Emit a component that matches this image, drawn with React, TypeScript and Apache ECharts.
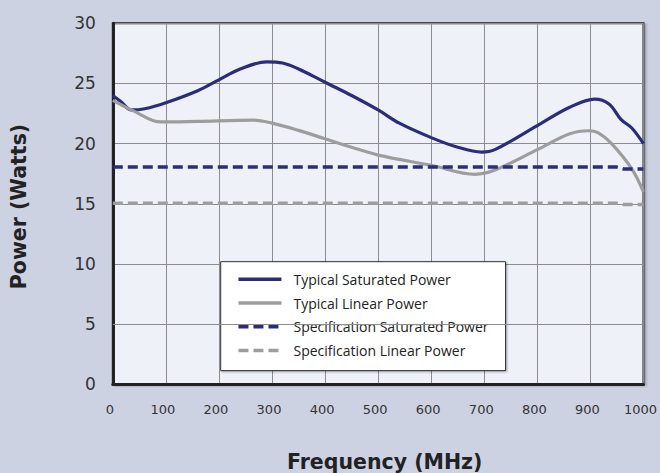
import React, { useEffect, useRef } from "react";
import * as echarts from "echarts";

const seriesNames = [
  "Typical Saturated Power",
  "Typical Linear Power",
  "Specification Saturated Power",
  "Specification Linear Power",
];

// [frequency MHz, power W]
const typicalSaturated: [number, number][] = [
  [0, 24.0], [15, 23.5], [35, 22.8], [60, 22.9], [100, 23.4], [160, 24.4],
  [200, 25.3], [240, 26.2], [290, 26.8], [320, 26.7], [360, 26.0], [400, 25.1],
  [450, 24.0], [500, 22.8], [540, 21.7], [600, 20.5], [650, 19.7], [695, 19.3],
  [720, 19.5], [800, 21.5], [860, 23.0], [908, 23.7], [935, 23.3], [958, 22.0],
  [978, 21.3], [1000, 20.0],
];

const typicalLinear: [number, number][] = [
  [0, 23.6], [40, 22.7], [90, 21.8], [160, 21.85], [265, 21.95], [300, 21.7],
  [350, 21.1], [400, 20.4], [450, 19.7], [500, 19.05], [600, 18.2], [683, 17.45],
  [720, 17.8], [800, 19.5], [860, 20.8], [897, 21.07], [915, 20.9], [940, 20.0],
  [978, 17.9], [1000, 16.0],
];

const specSaturated: [number, number][] = [
  [0, 18.05], [950, 18.05], [962, 17.9], [1000, 17.9],
];

const specLinear: [number, number][] = [
  [0, 15.05], [950, 15.05], [962, 14.95], [1000, 14.95],
];

const xMin = 0;
const xMax = 1000;
const xStep = 100;
const yMin = 0;
const yMax = 30;
const yStep = 5;
const legendCrossLineValue = 5;

const NAVY = "#2b2d7b";
const GREY = "#9d9d9d";
const GRID_LINE = "#8c8c8c";
const OUTER_BG = "#cdd2e3";
const PLOT_BG = "#eef2f8";

export default function App() {
  const ref = useRef<HTMLDivElement>(null);

  useEffect(() => {
    document.body.style.margin = "0";
    document.body.style.background = OUTER_BG;
    const chart = echarts.init(ref.current!, null, { renderer: "svg" });
    chart.setOption({
      animation: false,
      backgroundColor: OUTER_BG,
      grid: {
        show: true,
        left: 112.8,
        top: 23.3,
        width: 532,
        height: 361,
        backgroundColor: PLOT_BG,
        borderColor: "#222",
        borderWidth: 2,
        shadowColor: "rgba(0,0,0,0.25)",
        shadowBlur: 2,
        shadowOffsetX: 2,
        shadowOffsetY: 1,
      },
      xAxis: {
        type: "value",
        min: xMin,
        max: xMax,
        interval: xStep,
        axisLine: { show: true, lineStyle: { color: "#222", width: 3 } },
        axisTick: { show: false },
        splitLine: { show: true, lineStyle: { color: GRID_LINE, width: 1 } },
        axisLabel: {
          margin: 19,
          fontFamily: "DejaVu Sans",
          fontSize: 13,
          color: "#333",
          padding: [0, 6, 0, 0],
          formatter: (v: number) => String(v),
        },
      },
      yAxis: {
        type: "value",
        min: yMin,
        max: yMax,
        interval: yStep,
        axisLine: { show: true, lineStyle: { color: "#222", width: 3 } },
        axisTick: { show: false },
        splitLine: { show: true, lineStyle: { color: GRID_LINE, width: 1 } },
        axisLabel: {
          margin: 17,
          fontFamily: "DejaVu Sans",
          fontSize: 17,
          color: "#333",
        },
      },
      legend: {
        show: true,
        data: seriesNames,
        orient: "vertical",
        left: 220.7,
        top: 261.7,
        backgroundColor: "#ffffff",
        borderColor: "#333",
        borderWidth: 1,
        shadowColor: "rgba(0,0,0,0.35)",
        shadowBlur: 2,
        shadowOffsetX: 1,
        shadowOffsetY: 1,
        padding: [10.5, 17, 13, 16],
        itemWidth: 43,
        itemHeight: 14,
        itemGap: 9.8,
        lineStyle: { width: 3.5 },
        itemStyle: { opacity: 0 },
        textStyle: {
          fontFamily: "Open Sans",
          fontSize: 14,
          color: "#222",
          padding: [0, 0, 0, 7],
        },
      },
      graphic: [
        {
          type: "text",
          x: 18.5,
          y: 206.5,
          rotation: Math.PI / 2,
          style: {
            text: "Power (Watts)",
            fontFamily: "DejaVu Sans",
            fontWeight: "bold",
            fontSize: 20.5,
            fill: "#222",
            align: "center",
            verticalAlign: "middle",
          },
        },
        {
          type: "text",
          x: 384.7,
          y: 461.5,
          style: {
            text: "Frequency (MHz)",
            fontFamily: "DejaVu Sans",
            fontWeight: "bold",
            fontSize: 20.5,
            fill: "#222",
            align: "center",
            verticalAlign: "middle",
          },
        },
      ],
      series: [
        {
          name: seriesNames[0],
          type: "line",
          data: typicalSaturated,
          smooth: 0.35,
          symbol: "none",
          showSymbol: false,
          lineStyle: { color: NAVY, width: 3.2 },
          itemStyle: { color: NAVY },
        },
        {
          name: seriesNames[1],
          type: "line",
          data: typicalLinear,
          smooth: 0.35,
          symbol: "none",
          showSymbol: false,
          lineStyle: { color: GREY, width: 3.2 },
          itemStyle: { color: GREY },
        },
        {
          name: seriesNames[2],
          type: "line",
          data: specSaturated,
          symbol: "none",
          showSymbol: false,
          lineStyle: { color: NAVY, width: 3.5, type: [10, 5] },
          itemStyle: { color: NAVY },
        },
        {
          name: seriesNames[3],
          type: "line",
          data: specLinear,
          symbol: "none",
          showSymbol: false,
          lineStyle: { color: GREY, width: 3.5, type: [10, 5] },
          itemStyle: { color: GREY },
          markLine: {
            silent: true,
            z: 10,
            symbol: ["none", "none"],
            label: { show: false },
            lineStyle: { color: GRID_LINE, width: 1, type: "solid" },
            data: [{ yAxis: legendCrossLineValue }],
          },
        },
      ],
    });
    return () => chart.dispose();
  }, []);

  return <div ref={ref} style={{ width: 660, height: 473 }} />;
}
